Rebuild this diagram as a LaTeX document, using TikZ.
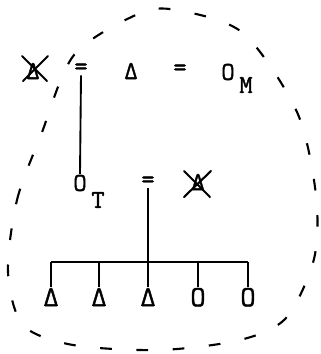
\documentclass[tikz,border=0pt]{standalone}
\usepackage{fontspec}
\newfontfamily\typer[FakeBold=1.5]{Latin Modern Mono}
\usetikzlibrary{positioning}

\begin{document}
\begin{tikzpicture}[x=0.03cm, y=-0.03cm, line width=1.6pt,
  sym/.style={font=\typer\fontsize{22}{22}\selectfont, inner sep=0pt},
  subs/.style={font=\typer\fontsize{22}{22}\selectfont, inner sep=0pt},
  leaf/.style={font=\typer\fontsize{25}{25}\selectfont, inner sep=0pt},
  stem/.style={line width=1.6pt},
  cross/.style={line width=1.8pt, line cap=round},
  boundary/.style={line width=1.8pt, dash pattern=on 10pt off 21pt}
]
\useasboundingbox (0,0) rectangle (321,354);

% Enclosing dashed region
\draw[boundary] plot[smooth cycle] coordinates {(8,272) (17,200) (41,135) (74,55)
  (138,14) (176,10) (243,33) (297,112) (316,195) (314,259) (286,318) (240,340)
  (160,350) (73,345) (23,325)};

% Top row
\node[sym] (ka) at (33,71) {Δ};
\draw[cross] (ka.center) ++(-11,-15) -- ++(25,25);
\draw[cross] (ka.center) ++(15,-15) -- ++(-25,25);
\node[sym] (eqa) at (81,69) {=};
\node[sym] (da) at (131,71) {Δ};
\node[sym] (eqb) at (180,70) {=};
\node[sym] (om) at (228,72) {O};
\node[subs] (omsub) at (246,85) {M};

% Second row
\node[sym] (ot) at (80,183) {O};
\node[subs] (otsub) at (98,200) {T};
\node[sym] (eqc) at (148,182) {=};
\node[sym] (kb) at (198,182) {Δ};
\draw[cross] (kb.center) ++(-14,-11) -- ++(26,26);
\draw[cross] (kb.center) ++(13,-11) -- ++(-27,26);
\draw[stem] (eqa.south) -- (ot.north);

% Bar and leaves
\coordinate (barm) at (148,262);
\draw[stem] (eqc.south) -- (barm);
\foreach \x/\s [count=\i] in {51/Δ,99/Δ,148/Δ,198/O,248/O} {
  \node[leaf, anchor=north] (leaf\i) at (\x,287) {\s};
  \draw[stem] (leaf\i.north) -- (leaf\i.north |- barm);
}
\draw[stem] (leaf1.north |- barm) -- (leaf5.north |- barm);

\end{tikzpicture}
\end{document}
